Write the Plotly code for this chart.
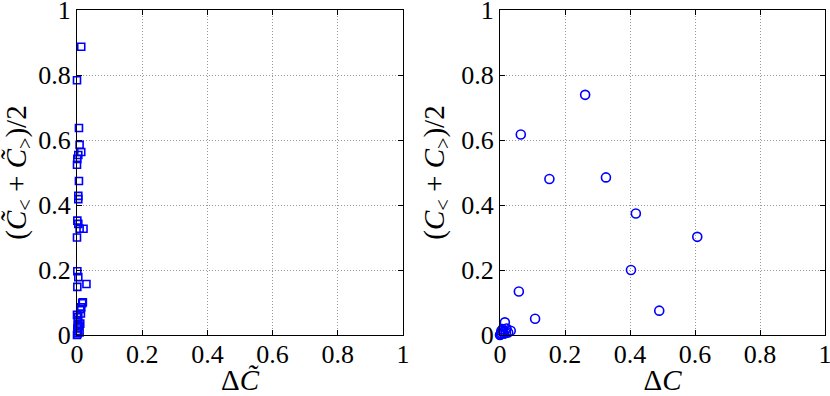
import plotly.graph_objects as go
from plotly.subplots import make_subplots

# left panel: tilde quantities (squares)
left_x = [0.013, 0.0, 0.006, 0.008, 0.013, 0.004, 0.001, 0.0, 0.006, 0.004,
          0.004, 0.001, 0.004, 0.008, 0.020, 0.0, 0.001, 0.004, 0.029, 0.001,
          0.018, 0.016, 0.013, 0.010, 0.012, 0.004, 0.002, 0.010, 0.006, 0.001,
          0.004, 0.002, 0.0, 0.008, 0.003, 0.0]
left_y = [0.887, 0.784, 0.637, 0.585, 0.563, 0.554, 0.542, 0.524, 0.474, 0.428,
          0.418, 0.352, 0.342, 0.327, 0.327, 0.300, 0.196, 0.178, 0.157, 0.148,
          0.101, 0.098, 0.085, 0.080, 0.066, 0.055, 0.045, 0.035, 0.028, 0.020,
          0.012, 0.005, 0.0, 0.008, 0.030, 0.062]

# right panel: plain quantities (circles)
right_x = [0.262, 0.064, 0.152, 0.326, 0.418, 0.607, 0.403, 0.490, 0.058, 0.108,
           0.015, 0.033, 0.020, 0.010, 0.005, 0.002, 0.008, 0.0, 0.012, 0.004,
           0.018, 0.025]
right_y = [0.739, 0.617, 0.480, 0.485, 0.374, 0.302, 0.200, 0.075, 0.134, 0.050,
           0.039, 0.013, 0.020, 0.010, 0.005, 0.002, 0.018, 0.0, 0.004, 0.012,
           0.006, 0.008]

tick_vals = [0, 0.2, 0.4, 0.6, 0.8, 1]

BLUE = "#0000ff"
FONT = "Liberation Serif"
TITLE_FONT = dict(family=FONT, size=29, color="black")

# plot area in window pixels: x 77..825, y 10..335
M_L, M_R, M_T, M_B = 77, 5, 10, 61
PLOT_W = 830 - M_L - M_R

fig = make_subplots(rows=1, cols=2)

fig.add_trace(go.Scatter(
    x=left_x, y=left_y, mode="markers", cliponaxis=False,
    marker=dict(symbol="square-open", size=7, color=BLUE, line=dict(width=1.6, color=BLUE)),
), row=1, col=1)

fig.add_trace(go.Scatter(
    x=right_x, y=right_y, mode="markers", cliponaxis=False,
    marker=dict(symbol="circle-open", size=9, color=BLUE, line=dict(width=1.6, color=BLUE)),
), row=1, col=2)

axis_style = dict(
    range=[0, 1], tickvals=tick_vals, showgrid=True, gridcolor="#999999", griddash="1px,2px",
    gridwidth=1, zeroline=False, showline=True, linecolor="black", linewidth=1,
    mirror="allticks", ticks="inside", ticklen=5, tickcolor="black",
    ticklabeloverflow="allow",
    tickfont=dict(family=FONT, size=26, color="black"),
)

fig.update_xaxes(**axis_style, ticklabelstandoff=-4)
fig.update_yaxes(**axis_style, ticklabelstandoff=0)

fig.update_xaxes(domain=[0, 326 / PLOT_W], row=1, col=1,
                 title=dict(text="Δ<i>C\u0303</i>", standoff=7, font=TITLE_FONT))
fig.update_xaxes(domain=[(500 - M_L) / PLOT_W, 1], row=1, col=2,
                 title=dict(text="Δ<i>C</i>", standoff=7, font=TITLE_FONT))
fig.update_yaxes(domain=[0, 1], row=1, col=1,
                 title=dict(text="(<i>C\u0303</i><sub>&lt;</sub> + <i>C\u0303</i><sub>&gt;</sub>)/2",
                            standoff=8, font=TITLE_FONT))
fig.update_yaxes(domain=[0, 1], row=1, col=2,
                 title=dict(text="(<i>C</i><sub>&lt;</sub> + <i>C</i><sub>&gt;</sub>)/2",
                            standoff=8, font=TITLE_FONT))

fig.update_layout(
    width=830, height=396,
    margin=dict(l=M_L, r=M_R, t=M_T, b=M_B, autoexpand=False),
    paper_bgcolor="white", plot_bgcolor="white",
    showlegend=False,
    font=dict(family=FONT, color="black"),
)

# drop the page's default body margin so the figure sits at the window origin
fig.write_html("out.html", config={"displayModeBar": False},
               post_script="document.body.style.margin='0';")
